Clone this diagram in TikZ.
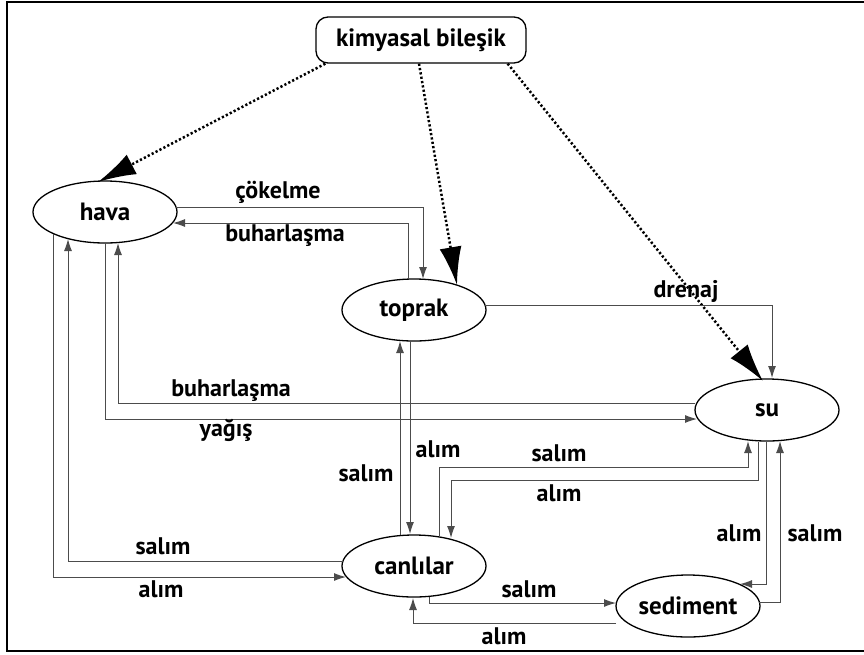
\documentclass[tikz,border=0pt]{standalone}
\usepackage{fontspec}
\setmainfont{PT Sans}
\usetikzlibrary{arrows.meta,calc,shapes.geometric}

\begin{document}
\begin{tikzpicture}
  [x=1pt, y=-1pt,
   el/.style={ellipse, draw, line width=1.3pt, minimum width=144pt, minimum height=62pt,
     inner sep=0pt, font=\fontsize{25}{29}\selectfont\bfseries},
   lbl/.style={inner sep=0pt, font=\fontsize{24}{28}\selectfont\bfseries},
   ar/.style={-{Latex[length=12pt,width=8pt]}, line width=1pt, black!70},
   dt/.style={-{Latex[length=38pt,width=22pt]}, line width=2.5pt, dash pattern=on 2.2pt off 2.2pt}]
  \useasboundingbox (0,0) rectangle (864,654);
  \draw[line width=2.5pt] (868,2) -- (7,2) -- (7,651) -- (868,651);
    \node[draw, rounded corners=12pt, line width=1.3pt, minimum width=210pt, minimum height=46pt,
      inner sep=0pt, font=\fontsize{25}{29}\selectfont\bfseries]
      (kb) at (421,40) {kimyasal bileşik};
    \foreach \name/\txt/\x/\y in {hava/hava/105/212,toprak/toprak/414/310,su/su/767/410,
                  canli/canlılar/414/566,sed/sediment/688/606}{
      \node[el] (\name) at (\x,\y) {\txt}; }
    % dotted arrows from the compound
    \draw[dt] ($(kb.south west)+(10,0)$) -- ($(hava)+(-7,-30)$);
    \draw[dt] ($(kb.south)+(-2,0)$) -- ($(toprak)+(43,-25)$);
    \draw[dt] ($(kb.south east)+(-19,0)$) -- ($(su)+(-4,-29)$);
    % hava / toprak
    \draw[ar] ($(hava)+(71,-5)$) -| ($(toprak)+(9,-31)$);
    \draw[ar] ($(toprak)+(-6,-31)$) |- ($(hava)+(68,11)$);
    \draw[ar] ($(toprak)+(71,-5)$) -| ($(su)+(5,-32)$);
    % hava / canlilar, hava / su
    \draw[ar] ($(hava)+(-52,22)$) |- ($(canli)+(-68,11)$);
    \draw[ar] ($(canli)+(-71,-5)$) -| ($(hava)+(-37,27)$);
    \draw[ar] ($(hava)+(0,31)$) |- ($(su)+(-70,9)$);
    \draw[ar] ($(su)+(-72,-7)$) -| ($(hava)+(13,31)$);
    % toprak / canlilar
    \draw[ar] ($(canli)+(-14,-31)$) -- ($(toprak)+(-14,31)$);
    \draw[ar] ($(toprak)+(-4,31)$) -- ($(canli)+(-4,-32)$);
    % canlilar / su / sediment
    \draw[ar] ($(canli)+(25,-30)$) -- ($(canli)+(25,-99)$) -| ($(su)+(-19,31)$);
    \draw[ar] ($(su)+(-9,32)$) -- ($(su)+(-9,70)$) -| ($(canli)+(37,-28)$);
    \draw[ar] ($(su)+(-1,32)$) |- ($(sed)+(52,-22)$);
    \draw[ar] ($(sed)+(71,-4)$) -| ($(su)+(13,31)$);
    \draw[ar] ($(canli)+(15,31)$) |- ($(sed)+(-72,-3)$);
    \draw[ar] ($(sed)+(-72,17)$) -| ($(canli)+(-1,32)$);
    \foreach \name/\txt/\x/\y in {lcok/çökelme/278/192,lbuh1/buharlaşma/285/236,
                  ldre/drenaj/686/291,lbuh2/buharlaşma/231/391,lyag/yağış/226/430,
                  ltsal/salım/366/473,ltal/alım/438/449,lssal/salım/559/453,
                  lsal/alım/559/493,lhsal/salım/163/546,lhal/alım/161/589,
                  lsdal/alım/739/533,lsdsal/salım/815/533,lcsal/salım/529/589,
                  lcal/alım/504/636}{
      \node[lbl] (\name) at (\x,\y) {\txt};}
  \end{tikzpicture}
\end{document}
